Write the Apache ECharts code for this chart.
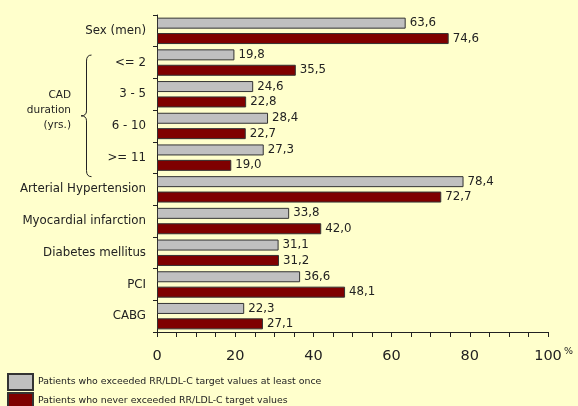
<!DOCTYPE html>
<html>
<head>
<meta charset="utf-8">
<script src="https://cdn.jsdelivr.net/npm/echarts@6/dist/echarts.min.js"></script>
<style>
  html, body { margin: 0; padding: 0; background: #FFFFCC; }
  #chart { width: 578px; height: 406px; }
</style>
</head>
<body>
<div id="chart"></div>
<script>
// Row labels, top to bottom
const categories = ['Sex (men)', '<= 2', '3 - 5', '6 - 10', '>= 11',
  'Arterial Hypertension', 'Myocardial infarction', 'Diabetes mellitus', 'PCI', 'CABG'];

// Share of patients (%) per row
const exceededValues = [63.6, 19.8, 24.6, 28.4, 27.3, 78.4, 33.8, 31.1, 36.6, 22.3];
const neverExceededValues = [74.6, 35.5, 22.8, 22.7, 19.0, 72.7, 42.0, 31.2, 48.1, 27.1];

const seriesNames = [
  'Patients who exceeded RR/LDL-C target values at least once',
  'Patients who never exceeded RR/LDL-C target values'
];

const xTicks = { min: 0, max: 100, interval: 20 };

const FONT = 'DejaVu Sans';
const INK = '#222';

const fmt = v => v.toFixed(1).replace('.', ',');

const chart = echarts.init(document.getElementById('chart'), null, { renderer: 'canvas' });

function barSeries(name, data, color) {
  return {
    name: name,
    type: 'bar',
    data: data,
    barWidth: 11,
    barGap: '40%',
    itemStyle: { color: color, borderColor: '#333', borderWidth: 1 },
    label: {
      show: true,
      position: 'right',
      distance: 4,
      formatter: p => fmt(p.value),
      fontFamily: FONT,
      fontSize: 11.8,
      color: INK
    },
    emphasis: { disabled: true }
  };
}

function legendFor(name, topPx) {
  return {
    data: [name],
    orient: 'vertical',
    left: 7,
    top: topPx,
    padding: 0,
    itemWidth: 25,
    itemHeight: 16,
    icon: 'rect',
    textStyle: { fontFamily: FONT, fontSize: 9.4, color: INK },
    selectedMode: false
  };
}

chart.setOption({
  backgroundColor: '#FFFFCC',
  animation: false,
  textStyle: { fontFamily: FONT },
  grid: { left: 157, right: 30, top: 15, bottom: 74, containLabel: false },
  legend: [legendFor(seriesNames[0], 373), legendFor(seriesNames[1], 392)],
  xAxis: {
    type: 'value',
    min: xTicks.min,
    max: xTicks.max,
    interval: xTicks.interval,
    axisLine: { show: true, lineStyle: { color: INK, width: 1 } },
    axisTick: { show: true, length: 5, lineStyle: { color: INK } },
    minorTick: { show: true, splitNumber: 4, length: 5, lineStyle: { color: INK } },
    splitLine: { show: false },
    axisLabel: { fontFamily: FONT, fontSize: 14.5, color: INK, margin: 17 }
  },
  yAxis: {
    type: 'category',
    data: categories,
    inverse: true,
    axisLine: { show: true, lineStyle: { color: INK, width: 1 } },
    axisTick: { show: true, length: 4, alignWithLabel: false, lineStyle: { color: INK } },
    axisLabel: { fontFamily: FONT, fontSize: 11.8, color: INK, margin: 11 }
  },
  series: [
    barSeries(seriesNames[0], exceededValues, '#C0C0C0'),
    barSeries(seriesNames[1], neverExceededValues, '#7F0000')
  ]
});

// Brace grouping the CAD-duration rows, anchored to the category axis
const yFirst = chart.convertToPixel({ yAxisIndex: 0 }, '<= 2');
const yLast = chart.convertToPixel({ yAxisIndex: 0 }, '>= 11');
const braceTop = yFirst - 7.5;
const braceBottom = yLast + 19;
const braceMid = (braceTop + braceBottom) / 2;
const xs = 86.5, xe = 91.5, xt = 81;
const stroke = { fill: null, stroke: INK, lineWidth: 1 };

// Unit sign after the last x tick label
const x100 = chart.convertToPixel({ xAxisIndex: 0 }, xTicks.max);
const xAxisY = chart.convertToPixel({ yAxisIndex: 0 }, categories[categories.length - 1]) + 16;

chart.setOption({
  graphic: [
    { type: 'bezierCurve', shape: { x1: xe, y1: braceTop, cpx1: xs, cpy1: braceTop, x2: xs, y2: braceTop + 6 }, style: stroke },
    { type: 'line', shape: { x1: xs, y1: braceTop + 6, x2: xs, y2: braceMid - 5 }, style: stroke },
    { type: 'bezierCurve', shape: { x1: xs, y1: braceMid - 5, cpx1: xs, cpy1: braceMid, x2: xt, y2: braceMid }, style: stroke },
    { type: 'bezierCurve', shape: { x1: xt, y1: braceMid, cpx1: xs, cpy1: braceMid, x2: xs, y2: braceMid + 5 }, style: stroke },
    { type: 'line', shape: { x1: xs, y1: braceMid + 5, x2: xs, y2: braceBottom - 6 }, style: stroke },
    { type: 'bezierCurve', shape: { x1: xs, y1: braceBottom - 6, cpx1: xs, cpy1: braceBottom, x2: xe, y2: braceBottom }, style: stroke },
    {
      type: 'text',
      x: 71,
      y: braceMid - 6,
      style: {
        text: 'CAD\nduration\n(yrs.)',
        align: 'right',
        verticalAlign: 'middle',
        fontFamily: FONT,
        fontSize: 10.5,
        lineHeight: 15,
        fill: INK
      }
    },
    {
      type: 'text',
      x: x100 + 16,
      y: xAxisY + 19,
      style: { text: '%', align: 'left', verticalAlign: 'middle', fontFamily: FONT, fontSize: 9.5, fill: INK }
    }
  ]
});
</script>
</body>
</html>
